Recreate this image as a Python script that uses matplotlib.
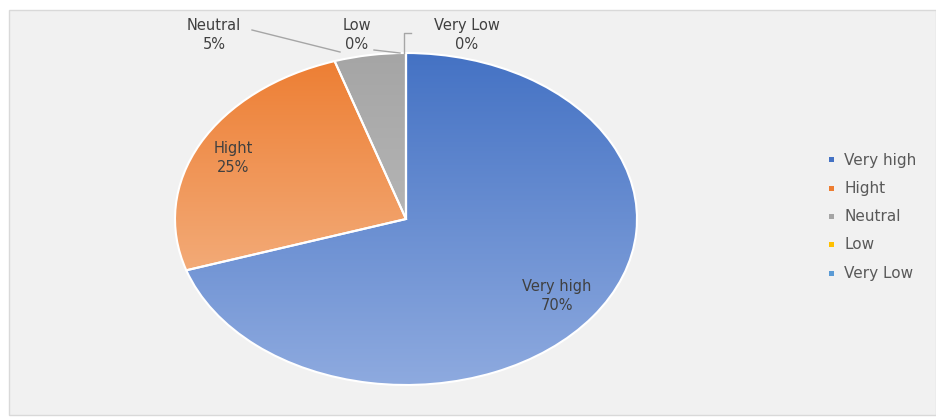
import matplotlib.pyplot as plt
import numpy as np
from matplotlib.colors import LinearSegmentedColormap
from matplotlib.patches import Rectangle

categories = ['Very high', 'Hight', 'Neutral', 'Low', 'Very Low']
values = [70, 25, 5, 0, 0]
pct_labels = ['70%', '25%', '5%', '0%', '0%']
colors = ['#4472c4', '#ed7d31', '#a5a5a5', '#ffc000', '#5b9bd5']
# light end of the gradient for each slice
light = ['#8eaadf', '#f6c29c', '#c4c4c4', '#ffd966', '#9dc3e6']

W, H = 936, 419
fig = plt.figure(figsize=(W/100, H/100), dpi=100)
fig.patch.set_facecolor('white')
fig.patches.append(Rectangle((9/W, 4/H), (W-9)/W, (H-14)/H, transform=fig.transFigure,
                             facecolor='#f1f1f1', edgecolor='#d9d9d9', lw=1, zorder=-10))

cx, cy, rx, ry = 406, 219, 231, 166
ax = fig.add_axes([(cx-rx)/W, (H-cy-ry)/H, 2*rx/W, 2*ry/H])
wedges, _ = ax.pie(values, colors=colors, startangle=90, counterclock=False,
                   wedgeprops=dict(edgecolor='white', linewidth=1.5))
ax.set_aspect('auto')

grad = np.linspace(0, 1, 256).reshape(-1, 1)
for w, c0, c1 in zip(wedges, colors, light):
    cmap = LinearSegmentedColormap.from_list('g', [c1, c0])
    im = ax.imshow(grad, cmap=cmap, extent=(-1, 1, -1, 1), origin='lower',
                   aspect='auto', zorder=w.get_zorder()+0.1)
    im.set_clip_path(w)
    w.set_facecolor('none')
    w.set_zorder(w.get_zorder()+0.2)
ax.set_xlim(-1, 1)
ax.set_ylim(-1, 1)

tc = '#404040'
fs = 10.5
def ftext(x, y, s, **kw):
    fig.text(x/W, 1-y/H, s, ha='center', va='center', color=tc, fontsize=fs,
             linespacing=1.3, **kw)

ftext(557, 296, categories[0] + '\n' + pct_labels[0])
ftext(233, 158, categories[1] + '\n' + pct_labels[1])
ftext(214, 35, categories[2] + '\n' + pct_labels[2])
ftext(357, 35, categories[3] + '\n' + pct_labels[3])
ftext(467, 35, categories[4] + '\n' + pct_labels[4])

lc = '#a6a6a6'
def fline(xs, ys):
    fig.lines.append(plt.Line2D([x/W for x in xs], [1-y/H for y in ys],
                                transform=fig.transFigure, color=lc, lw=1))
fline([252, 340], [30, 52])
fline([374, 400], [50, 53])
fline([404, 404, 411], [53, 33, 33])

# legend
for i, (name, c) in enumerate(zip(categories, colors)):
    y = 160 + i*28.3
    fig.patches.append(Rectangle((829/W, 1-(y+2.5)/H), 5/W, 5/H,
                                 transform=fig.transFigure, facecolor=c, edgecolor='none'))
    fig.text(844/W, 1-y/H, name, ha='left', va='center', color='#595959', fontsize=11)

fig.savefig('out.png', dpi=100)
